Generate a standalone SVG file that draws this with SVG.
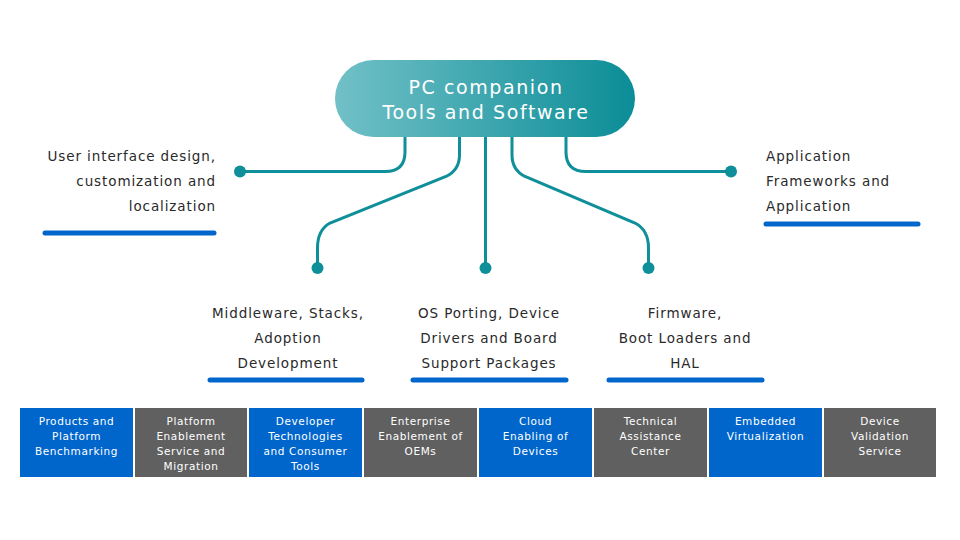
<svg xmlns="http://www.w3.org/2000/svg" width="960" height="540" viewBox="0 0 960 540">
<defs>
<linearGradient id="pill" x1="0" y1="0" x2="1" y2="0">
<stop offset="0" stop-color="#72c0c7"/>
<stop offset="1" stop-color="#0b8d97"/>
</linearGradient>
<style>
text{font-family:"DejaVu Sans","Liberation Sans",sans-serif;}
.lbl{font-size:13.5px;fill:#2a2a2a;letter-spacing:0.9px;}
.title{font-size:19px;fill:#fff;letter-spacing:1.6px;text-anchor:middle;}
.box{font-size:10.5px;fill:#fff;letter-spacing:0.6px;text-anchor:middle;}
.conn{fill:none;stroke:#0e8f99;stroke-width:3;}
.dot{fill:#0e8f99;}
.bar{stroke:#0066cc;stroke-width:5;stroke-linecap:round;}
.blue{fill:#0066cc;}
.gray{fill:#606060;}
</style>
</defs>
<rect width="960" height="540" fill="#fff"/>

<g id="connectors">
<path class="conn" d="M405 137 V152 Q405 171.5 385 171.5 H240"/>
<path class="conn" d="M459.5 137 V155 Q459.5 170 446 176.5 L330 223 Q317.5 230 317.5 248 V268"/>
<path class="conn" d="M485.5 137 V268"/>
<path class="conn" d="M512 137 V155 Q512 170 525 176.5 L635 223 Q648.5 230 648.5 248 V268"/>
<path class="conn" d="M566 137 V152 Q566 171.5 586 171.5 H731"/>
<circle class="dot" cx="240" cy="171.5" r="6"/>
<circle class="dot" cx="731" cy="171.5" r="6"/>
<circle class="dot" cx="317.5" cy="268" r="6"/>
<circle class="dot" cx="485.5" cy="268" r="6"/>
<circle class="dot" cx="648.5" cy="268" r="6"/>
</g>

<g id="hub">
<rect x="335" y="60" width="300" height="77" rx="38.5" fill="url(#pill)"/>
<text class="title" x="486" y="94">PC companion</text>
<text class="title" x="486" y="119">Tools and Software</text>
</g>

<g id="ui-design">
<text class="lbl" text-anchor="end" x="216" y="161">User interface design,</text>
<text class="lbl" text-anchor="end" x="216" y="186">customization and</text>
<text class="lbl" text-anchor="end" x="216" y="211">localization</text>
<line class="bar" x1="45" y1="233" x2="214" y2="233"/>
</g>

<g id="app-frameworks">
<text class="lbl" x="766" y="161">Application</text>
<text class="lbl" x="766" y="186">Frameworks and</text>
<text class="lbl" x="766" y="211">Application</text>
<line class="bar" x1="766" y1="224" x2="918" y2="224"/>
</g>

<g id="middleware" text-anchor="middle">
<text class="lbl" x="288" y="318">Middleware, Stacks,</text>
<text class="lbl" x="288" y="343">Adoption</text>
<text class="lbl" x="288" y="368">Development</text>
<line class="bar" x1="210" y1="380" x2="362" y2="380"/>
</g>

<g id="os-porting" text-anchor="middle">
<text class="lbl" x="489" y="318">OS Porting, Device</text>
<text class="lbl" x="489" y="343">Drivers and Board</text>
<text class="lbl" x="489" y="368">Support Packages</text>
<line class="bar" x1="413" y1="380" x2="566" y2="380"/>
</g>

<g id="firmware" text-anchor="middle">
<text class="lbl" x="685" y="318">Firmware,</text>
<text class="lbl" x="685" y="343">Boot Loaders and</text>
<text class="lbl" x="685" y="368">HAL</text>
<line class="bar" x1="609" y1="380" x2="762" y2="380"/>
</g>

<g id="box1"><rect class="blue" x="20" y="408" width="113" height="69"/>
<text class="box" x="76.5" y="425">Products and</text><text class="box" x="76.5" y="440">Platform</text><text class="box" x="76.5" y="455">Benchmarking</text></g>
<g id="box2"><rect class="gray" x="135" y="408" width="112" height="69"/>
<text class="box" x="191" y="425">Platform</text><text class="box" x="191" y="440">Enablement</text><text class="box" x="191" y="455">Service and</text><text class="box" x="191" y="470">Migration</text></g>
<g id="box3"><rect class="blue" x="249" y="408" width="113" height="69"/>
<text class="box" x="305.5" y="425">Developer</text><text class="box" x="305.5" y="440">Technologies</text><text class="box" x="305.5" y="455">and Consumer</text><text class="box" x="305.5" y="470">Tools</text></g>
<g id="box4"><rect class="gray" x="364" y="408" width="113" height="69"/>
<text class="box" x="420.5" y="425">Enterprise</text><text class="box" x="420.5" y="440">Enablement of</text><text class="box" x="420.5" y="455">OEMs</text></g>
<g id="box5"><rect class="blue" x="479" y="408" width="113" height="69"/>
<text class="box" x="535.5" y="425">Cloud</text><text class="box" x="535.5" y="440">Enabling of</text><text class="box" x="535.5" y="455">Devices</text></g>
<g id="box6"><rect class="gray" x="594" y="408" width="113" height="69"/>
<text class="box" x="650.5" y="425">Technical</text><text class="box" x="650.5" y="440">Assistance</text><text class="box" x="650.5" y="455">Center</text></g>
<g id="box7"><rect class="blue" x="709" y="408" width="113" height="69"/>
<text class="box" x="765.5" y="425">Embedded</text><text class="box" x="765.5" y="440">Virtualization</text></g>
<g id="box8"><rect class="gray" x="824" y="408" width="112" height="69"/>
<text class="box" x="880" y="425">Device</text><text class="box" x="880" y="440">Validation</text><text class="box" x="880" y="455">Service</text></g>
</svg>
